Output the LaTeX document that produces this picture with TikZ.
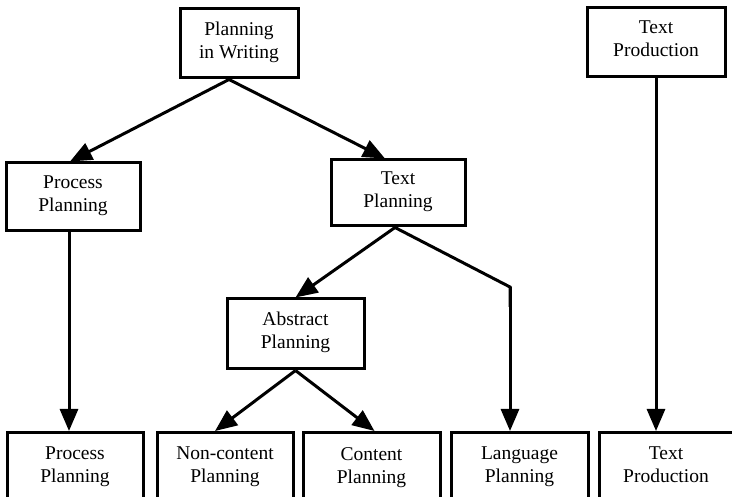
\documentclass[tikz,border=0pt]{standalone}
\usepackage{fontspec}
\setmainfont{Liberation Serif}
\usetikzlibrary{arrows.meta,calc}
\begin{document}
\begin{tikzpicture}[x=1pt,y=-1pt,
  box/.style={draw,line width=3pt,inner sep=0pt,align=center,
    font=\fontsize{19.5}{23}\selectfont,execute at end node=\strut},
  conn/.style={line width=3pt,-{Triangle[length=22pt,width=18pt]}},
  wire/.style={line width=3pt}]
\path[use as bounding box] (0,0) rectangle (732,497);
\begin{scope}
\clip (0,0) rectangle (732,497);
\node[box,minimum width=118pt,minimum height=69pt] (piw) at (239,43.5) {Planning\\in Writing};
\node[box,minimum width=134pt,minimum height=68pt] (pp1) at (73,197) {Process\\Planning};
\node[box,minimum width=134pt,minimum height=66pt] (tp) at (398,193) {Text\\Planning};
\node[box,minimum width=137pt,minimum height=70pt] (ap) at (295.5,334) {Abstract\\Planning};
\node[box,minimum width=138pt,minimum height=69pt] (tp2) at (656,42.5) {Text\\Production};
\node[box,minimum width=136pt,minimum height=72pt,anchor=north] (pp2) at (75,431) {Process\\Planning};
\node[box,minimum width=136pt,minimum height=72pt,anchor=north] (nc) at (225,431) {Non-content\\Planning};
\node[box,minimum width=137pt,minimum height=72pt,anchor=north] (cp) at (371.5,431) {Content\\Planning};
\node[box,minimum width=137pt,minimum height=72pt,anchor=north] (lp) at (519.5,431) {Language\\Planning};
\node[box,minimum width=134pt,minimum height=72pt,anchor=north] (tpb) at (666,431) {Text\\Production};
\coordinate (piwv) at ($(piw.south)+(-10,0)$);
\coordinate (bend) at (510,287);
\draw[conn] (piwv) -- ($(pp1.north)+(-3,0)$);
\draw[conn] (piwv) -- ($(tp.north)+(-13,0)$);
\draw[conn] ($(pp1.south)+(-4,0)$) -- ($(pp2.north)+(-6,0)$);
\draw[conn] ($(tp.south)+(-3,0)$) -- (ap.north);
\draw[wire,line join=miter] ($(tp.south)+(-3,0)$) -- (bend) -- ++(0,20);
\draw[conn] (bend) -- (lp.north -| bend);
\draw[conn] (ap.south) -- ($(nc.north)+(-10,0)$);
\draw[conn] (ap.south) -- ($(cp.north)+(3,0)$);
\draw[conn] (tp2.south) -- (tpb.north -| tp2.south);
\end{scope}
\end{tikzpicture}
\end{document}
